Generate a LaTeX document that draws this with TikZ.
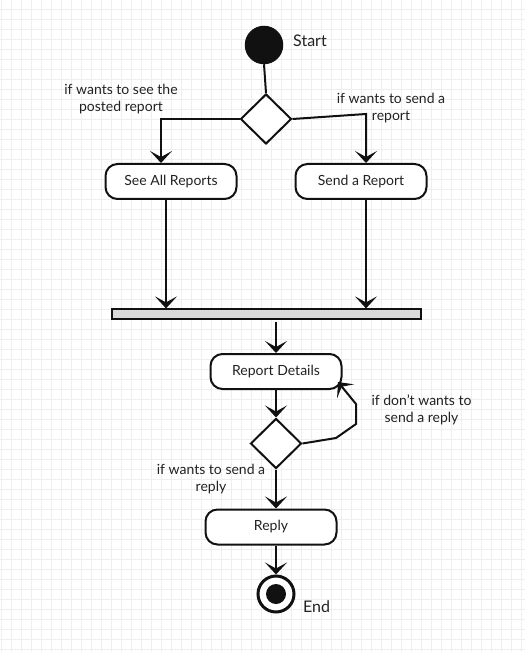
\documentclass[tikz,border=0pt]{standalone}
\usepackage{fontspec}
\setmainfont{Lato}
\usetikzlibrary{arrows.meta,shapes.geometric,calc}
\definecolor{gridc}{HTML}{EEEEEE}
\definecolor{ink}{HTML}{111111}
\definecolor{txt}{HTML}{222222}
\definecolor{barfill}{HTML}{D9D9D9}
\tikzset{
  lbl/.style={text=txt, font=\fontsize{14}{17}\selectfont, align=center, inner sep=0pt},
  bigl/.style={text=txt, font=\fontsize{16}{19}\selectfont, inner sep=0pt},
  actbox/.style={draw=ink, line width=2pt, fill=white, rounded corners=12pt, minimum width=131pt, minimum height=35pt, inner sep=0pt, text=txt, font=\fontsize{14}{16}\selectfont},
  decis/.style={draw=ink, line width=2pt, fill=white, diamond, minimum width=51pt, minimum height=50pt, inner sep=0pt},
  arr/.style={draw=ink, line width=2pt, -{Stealth[length=12pt,width=22pt,inset=6pt]}},
  conn/.style={draw=ink, line width=2pt},
}
\begin{document}
\begin{tikzpicture}[x=1pt,y=-1pt]
\fill[white] (0,0) rectangle (525,652);
\useasboundingbox (0,0) rectangle (525,652);
\foreach \gx in {1,11,...,521} \draw[gridc, line width=0.7pt] (\gx,0) -- (\gx,652);
\foreach \gy in {9,19,...,649} \draw[gridc, line width=0.7pt] (0,\gy) -- (525,\gy);

% nodes
\node[circle, draw=ink, fill=ink, line width=1.5pt, minimum size=37pt, inner sep=0pt] (start) at (264,45) {};
\node[bigl, anchor=west] (startl) at (293,41) {Start};
\node[decis] (d1) at (266,119) {};
\node[actbox] (see) at (171,181.5) {See All Reports};
\node[actbox] (send) at (361,181.5) {Send a Report};
\node[draw=ink, line width=1.2pt, fill=barfill, minimum width=309pt, minimum height=10pt, inner sep=0pt] (bar) at (266.5,314) {};
\node[actbox] (rd) at (276,371.5) {Report Details};
\node[decis] (d2) at (276,443.5) {};
\node[actbox] (reply) at (271,527) {Reply};
\node[circle, draw=ink, fill=white, line width=3pt, minimum size=36pt, inner sep=0pt] (end) at (276,594) {};
\node[circle, fill=ink, minimum size=20pt, inner sep=0pt] (endin) at (end.center) {};
\node[bigl, anchor=west] (endl) at (303,607) {End};

% labels
\node[lbl] (l1) at (121,99.5) {if wants to see the\\posted report};
\node[lbl] (l2) at (391,108.5) {if wants to send a\\report};
\node[lbl] (l3) at (421.5,409.5) {if don{\char"0027}t wants to\\send a reply};
\node[lbl] (l4) at (211,479.5) {if wants to send a\\reply};

% helper coordinates
\coordinate (lk) at (161,119);
\coordinate (rk) at (366,114);
\coordinate (sa) at (166,198);
\coordinate (sb) at (366,198);
\coordinate (lp1) at (336,438);
\coordinate (lp2) at (356,424);
\coordinate (lp3) at (356,404);
\coordinate (rdc) at (338,382);

% connectors
\draw[conn] (start.south) -- (d1.north);
\draw[arr] (d1.west) -- (lk) -- (lk |- see.north);
\draw[arr] (d1.east) -- (rk) -- (rk |- send.north);
\draw[arr] (sa) -- (sa |- bar.north);
\draw[arr] (sb) -- (sb |- bar.north);
\draw[arr] ($(bar.south -| rd.north)+(0,2)$) -- (rd.north);
\draw[arr] (rd.south) -- (d2.north);
\draw[arr] (d2.east) -- (lp1) -- (lp2) -- (lp3) -- (rdc);
\draw[arr] (d2.south) -- (d2.south |- reply.north);
\draw[arr] (reply.south -| end.north) -- (end.north);
\end{tikzpicture}
\end{document}
